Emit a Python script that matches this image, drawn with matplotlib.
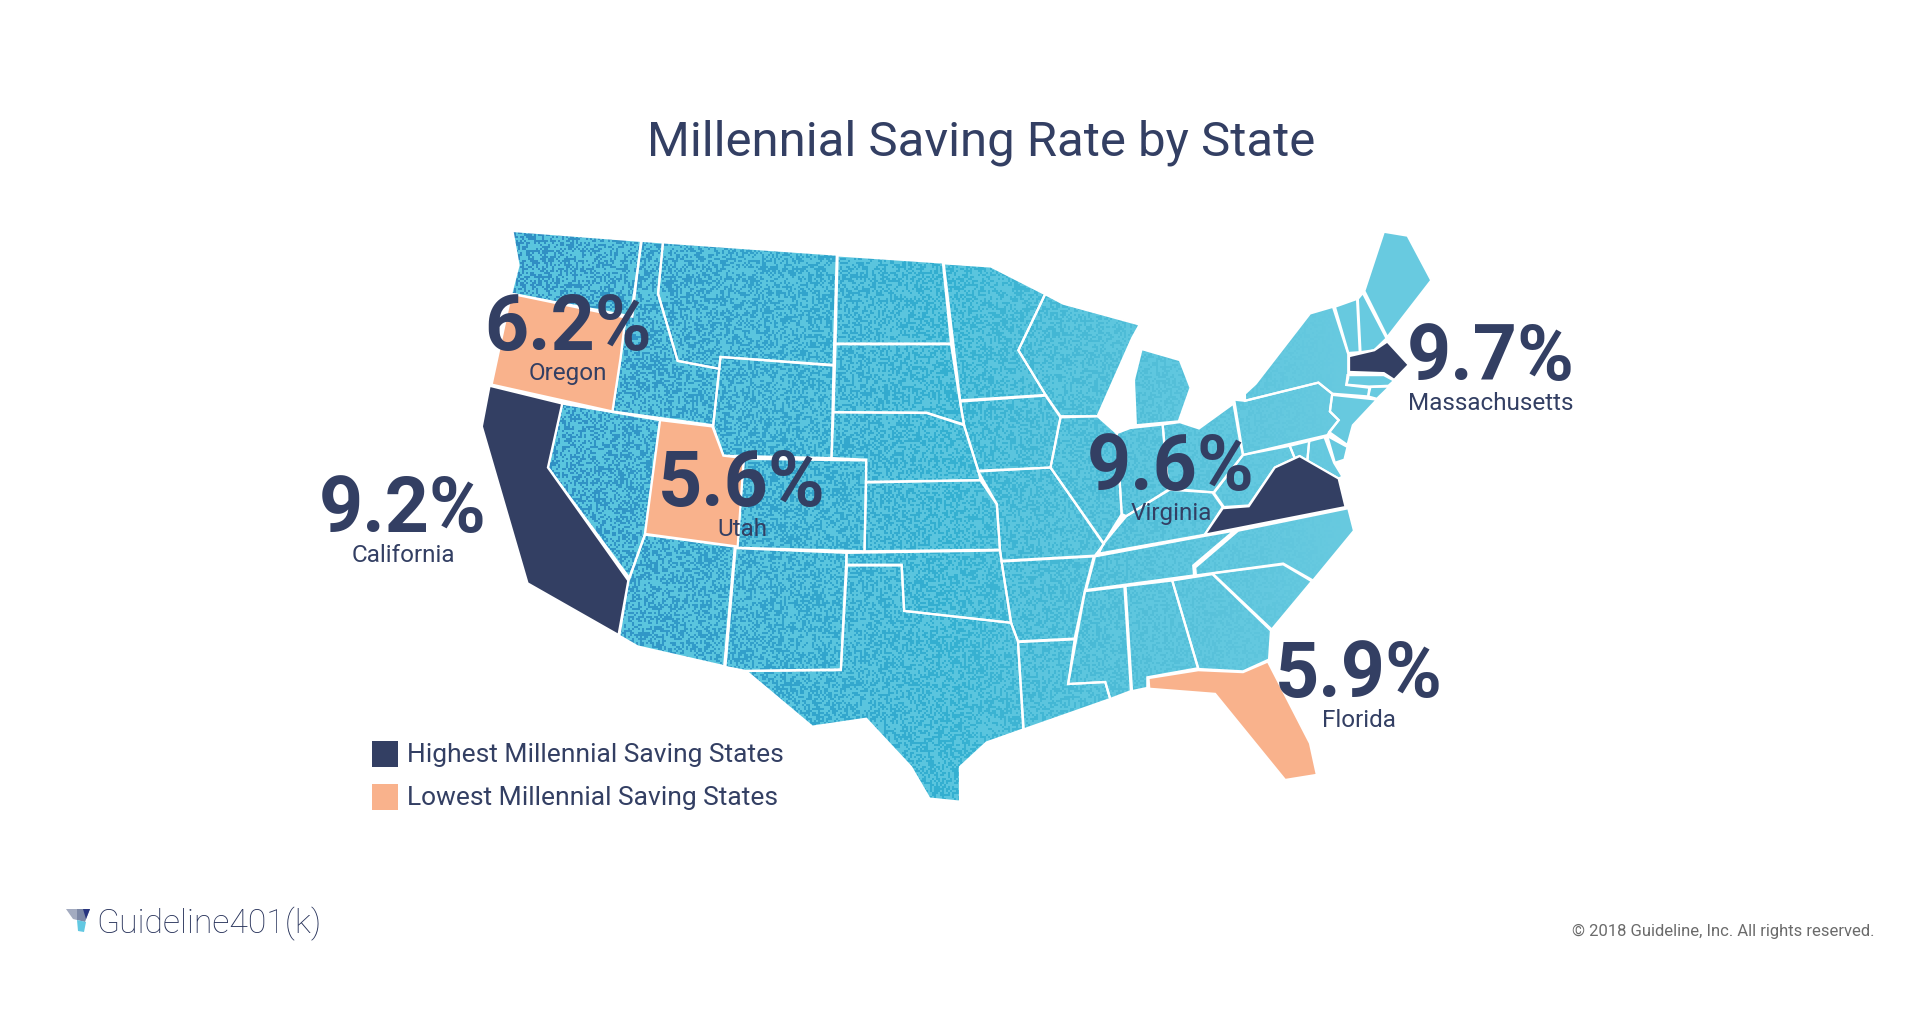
import numpy as np
import matplotlib
matplotlib.use('Agg')
import matplotlib.pyplot as plt
from matplotlib.patches import Polygon, Rectangle, PathPatch
from matplotlib.path import Path

TITLE = 'Millennial Saving Rate by State'
NAVY = '#333f63'
PEACH = '#f9b28c'

# labelled states
label_states = ['Oregon', 'Utah', 'California', 'Virginia', 'Massachusetts', 'Florida']
label_rates = ['6.2%', '5.6%', '9.2%', '9.6%', '9.7%', '5.9%']
highest = ['California', 'Virginia', 'Massachusetts']
lowest = ['Oregon', 'Utah', 'Florida']
legend_labels = ['Highest Millennial Saving States', 'Lowest Millennial Saving States']

# state outlines, west half and east half have own scale
west = {
    'WA': [(153,53),(468,78),(447,270),(150,212),(168,140)],
    'Oregon': [(150,212),(430,272),(418,375),(398,510),(102,442)],
    'ID': [(470,78),(522,82),(510,212),(558,382),(660,402),(645,545),(398,510),(418,375),(430,272),(447,240)],
    'MT': [(522,82),(948,113),(940,392),(663,372),(660,402),(558,382),(510,212)],
    'WY': [(663,372),(940,394),(935,628),(670,622),(645,548)],
    'Utah': [(515,532),(643,548),(670,622),(720,628),(705,852),(478,820)],
    'CO': [(720,630),(1020,634),(1016,864),(703,855)],
    'NV': [(275,490),(515,532),(478,820),(440,932),(240,652)],
    'California': [(97,445),(275,490),(240,652),(437,938),(413,1076),(190,945),(78,548)],
    'AZ': [(478,822),(698,852),(672,1155),(460,1105),(415,1078),(437,938)],
    'NM': [(700,856),(972,868),(958,1163),(725,1167),(675,1157)],
    'TX': [(973,900),(1107,900),(1113,1015),(1375,1045),(1392,1092),(1405,1315),(1315,1348),(1250,1410),
           (1250,1498),(1175,1490),(1130,1410),(1020,1288),(888,1308),(725,1167),(958,1165)],
    'OK': [(972,868),(1348,862),(1352,890),(1375,1045),(1113,1015),(1107,898),(972,898)],
    'KS': [(1020,690),(1300,684),(1340,745),(1348,860),(1016,864)],
    'NE': [(940,512),(1168,514),(1260,545),(1295,660),(1300,684),(1020,688),(1020,632),(935,628)],
    'SD': [(945,340),(1228,340),(1250,485),(1260,543),(1168,513),(940,512)],
    'ND': [(950,115),(1208,133),(1228,338),(945,338)],
}
east = {
    'MN': [(-147,135),(-24,143),(118,213),(48,355),(119,468),(-104,482)],
    'WI': [(118,213),(165,237),(365,290),(345,325),(255,522),(158,522),(119,468),(48,355)],
    'MI': [(370,352),(470,380),(498,450),(467,535),(355,545),(350,430)],
    'IA': [(-104,485),(119,470),(158,525),(132,652),(-57,660),(-94,545)],
    'MO': [(-57,662),(132,652),(272,845),(248,875),(4,888),(0,860),(-8,745)],
    'IL': [(158,525),(255,522),(305,565),(318,770),(270,845),(132,652)],
    'IN': [(305,565),(340,552),(425,543),(440,710),(330,775),(318,770)],
    'OH': [(425,543),(470,537),(520,553),(610,490),(628,590),(635,620),(560,715),(440,705)],
    'KY': [(330,775),(440,708),(555,715),(582,752),(535,822),(258,870),(270,845)],
    'WV': [(635,620),(757,597),(770,628),(718,652),(650,748),(585,752),(558,715)],
    'Virginia': [(535,822),(582,755),(650,750),(718,652),(783,623),(885,680),(903,752)],
    'MD': [(757,597),(808,585),(803,635),(783,623),(770,628)],
    'DC': [(808,585),(848,575),(873,640),(895,675),(885,680),(803,635)],
    'DE': [(855,572),(908,600),(900,632),(875,640)],
    'NJ': [(868,468),(985,480),(922,545),(908,595),(860,562),(885,532),(862,510)],
    'PA': [(640,483),(832,437),(868,465),(862,510),(885,532),(855,570),(635,620),(612,480)],
    'NY': [(640,465),(668,440),(810,262),(870,245),(910,365),(910,425),(905,443),(965,450),(962,472),(868,465),(832,437),(640,483)],
    'LI': [(968,448),(1018,447),(985,478),(962,472)],
    'CT': [(908,418),(1003,418),(1030,432),(1015,445),(965,447),(905,442)],
    'Massachusetts': [(912,370),(978,355),(1012,333),(1068,392),(1030,430),(1003,413),(912,410)],
    'VT': [(875,245),(933,225),(940,360),(910,362)],
    'NH': [(935,225),(948,210),(1010,325),(978,355),(942,360)],
    'ME': [(1003,55),(1065,65),(1127,178),(1012,322),(952,205)],
    'NC': [(510,905),(622,812),(910,755),(925,812),(818,938),(740,895),(512,925)],
    'TN': [(248,877),(535,825),(612,812),(505,900),(507,925),(225,962)],
    'SC': [(555,920),(740,897),(815,940),(710,1062)],
    'GA': [(450,938),(555,922),(708,1065),(703,1138),(635,1168),(518,1162)],
    'AL': [(328,952),(450,938),(518,1160),(385,1183),(385,1210),(345,1218)],
    'MS': [(222,965),(325,953),(342,1218),(288,1238),(275,1195),(178,1200)],
    'AR': [(4,890),(245,877),(222,963),(195,1085),(47,1092),(29,1045)],
    'LA': [(47,1094),(195,1087),(178,1200),(275,1195),(288,1238),(62,1315)],
    'Florida': [(388,1185),(518,1165),(635,1170),(700,1143),(810,1350),(828,1430),(745,1443),(562,1225),(390,1212)],
}

# colour stops of the grain from west to east
grain_x = [500, 950, 1150, 1350]
grain_dark = [(48, 140, 195), (52, 176, 209), (82, 190, 216), (104, 202, 224)]
grain_light = [(90, 197, 222), (90, 197, 222), (95, 199, 223), (104, 202, 224)]


def to_px(pts, x0, sx):
    return [(x0 + x * sx, 210 + y * 0.395) for x, y in pts]


def make_texture(w=1920, h=1013):
    # speckled print grain, only a look, says nothing about values
    yy, xx = np.mgrid[0:h, 0:w]
    ci, cj = xx // 2, yy // 2
    n = np.sin(ci * 12.9898 + cj * 78.233) * 43758.5453
    mask = (n - np.floor(n)) > 0.55
    xs = np.arange(w)
    dark = np.stack([np.interp(xs, grain_x, [c[i] for c in grain_dark]) for i in range(3)], axis=-1)
    light = np.stack([np.interp(xs, grain_x, [c[i] for c in grain_light]) for i in range(3)], axis=-1)
    return np.where(mask[..., None], dark[None, ...], light[None, ...]).astype(np.uint8)


def main():
    fig = plt.figure(figsize=(19.2, 10.13), dpi=100)
    ax = fig.add_axes([0, 0, 1, 1])
    ax.set_xlim(0, 1920)
    ax.set_ylim(1013, 0)
    ax.axis('off')

    shapes = {k: to_px(v, 450, 0.408) for k, v in west.items()}
    shapes.update({k: to_px(v, 1000, 0.3827) for k, v in east.items()})

    # blue states get the grain image clipped to them
    verts, codes = [], []
    for name, pts in shapes.items():
        if name in highest or name in lowest:
            continue
        verts += pts + [pts[0]]
        codes += [Path.MOVETO] + [Path.LINETO] * (len(pts) - 1) + [Path.CLOSEPOLY]
    clip = PathPatch(Path(verts, codes), fc='none', ec='none', transform=ax.transData)
    ax.add_patch(clip)
    im = ax.imshow(make_texture(), extent=(0, 1920, 1013, 0), interpolation='nearest', aspect='auto', zorder=1)
    im.set_clip_path(clip)

    for name, pts in shapes.items():
        if name in highest:
            fc = NAVY
        elif name in lowest:
            fc = PEACH
        else:
            fc = 'none'
        z = 3 if fc != 'none' else 2
        ax.add_patch(Polygon(pts, closed=True, fc=fc, ec='white', lw=1.6, joinstyle='miter', zorder=z))

    ax.text(981, 143, TITLE, ha='center', va='center', fontsize=35.4, color=NAVY, family='Roboto', zorder=5)

    # value and state name, centre positions in pixels
    num_pos = [(568, 329), (742, 485), (403, 511), (1171, 469), (1491, 359), (1359, 676)]
    for state, rate, (x, y) in zip(label_states, label_rates, num_pos):
        ax.text(x, y, rate, ha='center', va='center', fontsize=55.5, fontweight='bold', color=NAVY,
                family='Roboto', zorder=5)
        ax.text(x, y + 44, state, ha='center', va='center', fontsize=17.5, color=NAVY,
                family='Roboto', zorder=5)

    # legend
    for lab, col, y in zip(legend_labels, [NAVY, PEACH], [754, 797]):
        ax.add_patch(Rectangle((372, y - 13), 26, 26, fc=col, ec='none', zorder=5))
        ax.text(407, y + 1, lab, ha='left', va='center', fontsize=19, color=NAVY, family='Roboto', zorder=5)

    # logo
    ax.add_patch(Polygon([(66,909),(77,909),(77,920),(73,919)], fc='#a3abc0', ec='none', zorder=5))
    ax.add_patch(Polygon([(77,909),(90,909),(85,922),(77,920)], fc='#7c88a6', ec='none', zorder=5))
    ax.add_patch(Polygon([(83,909),(90,909),(86,919)], fc='#28357f', ec='none', zorder=5))
    ax.add_patch(Polygon([(77,920),(86,922),(84,932),(78,931)], fc='#62c8e2', ec='none', zorder=5))
    ax.text(96, 924, 'Guideline401(k)', ha='left', va='center', fontsize=24.3, color='#27325a',
            family='Roboto', fontweight='light', zorder=5)

    ax.text(1874, 931, '© 2018 Guideline, Inc. All rights reserved.', ha='right', va='center',
            fontsize=12, color='#6b6b6b', family='Roboto', zorder=5)

    fig.savefig('out.png', dpi=100, facecolor='white')


if __name__ == "__main__":
    main()
